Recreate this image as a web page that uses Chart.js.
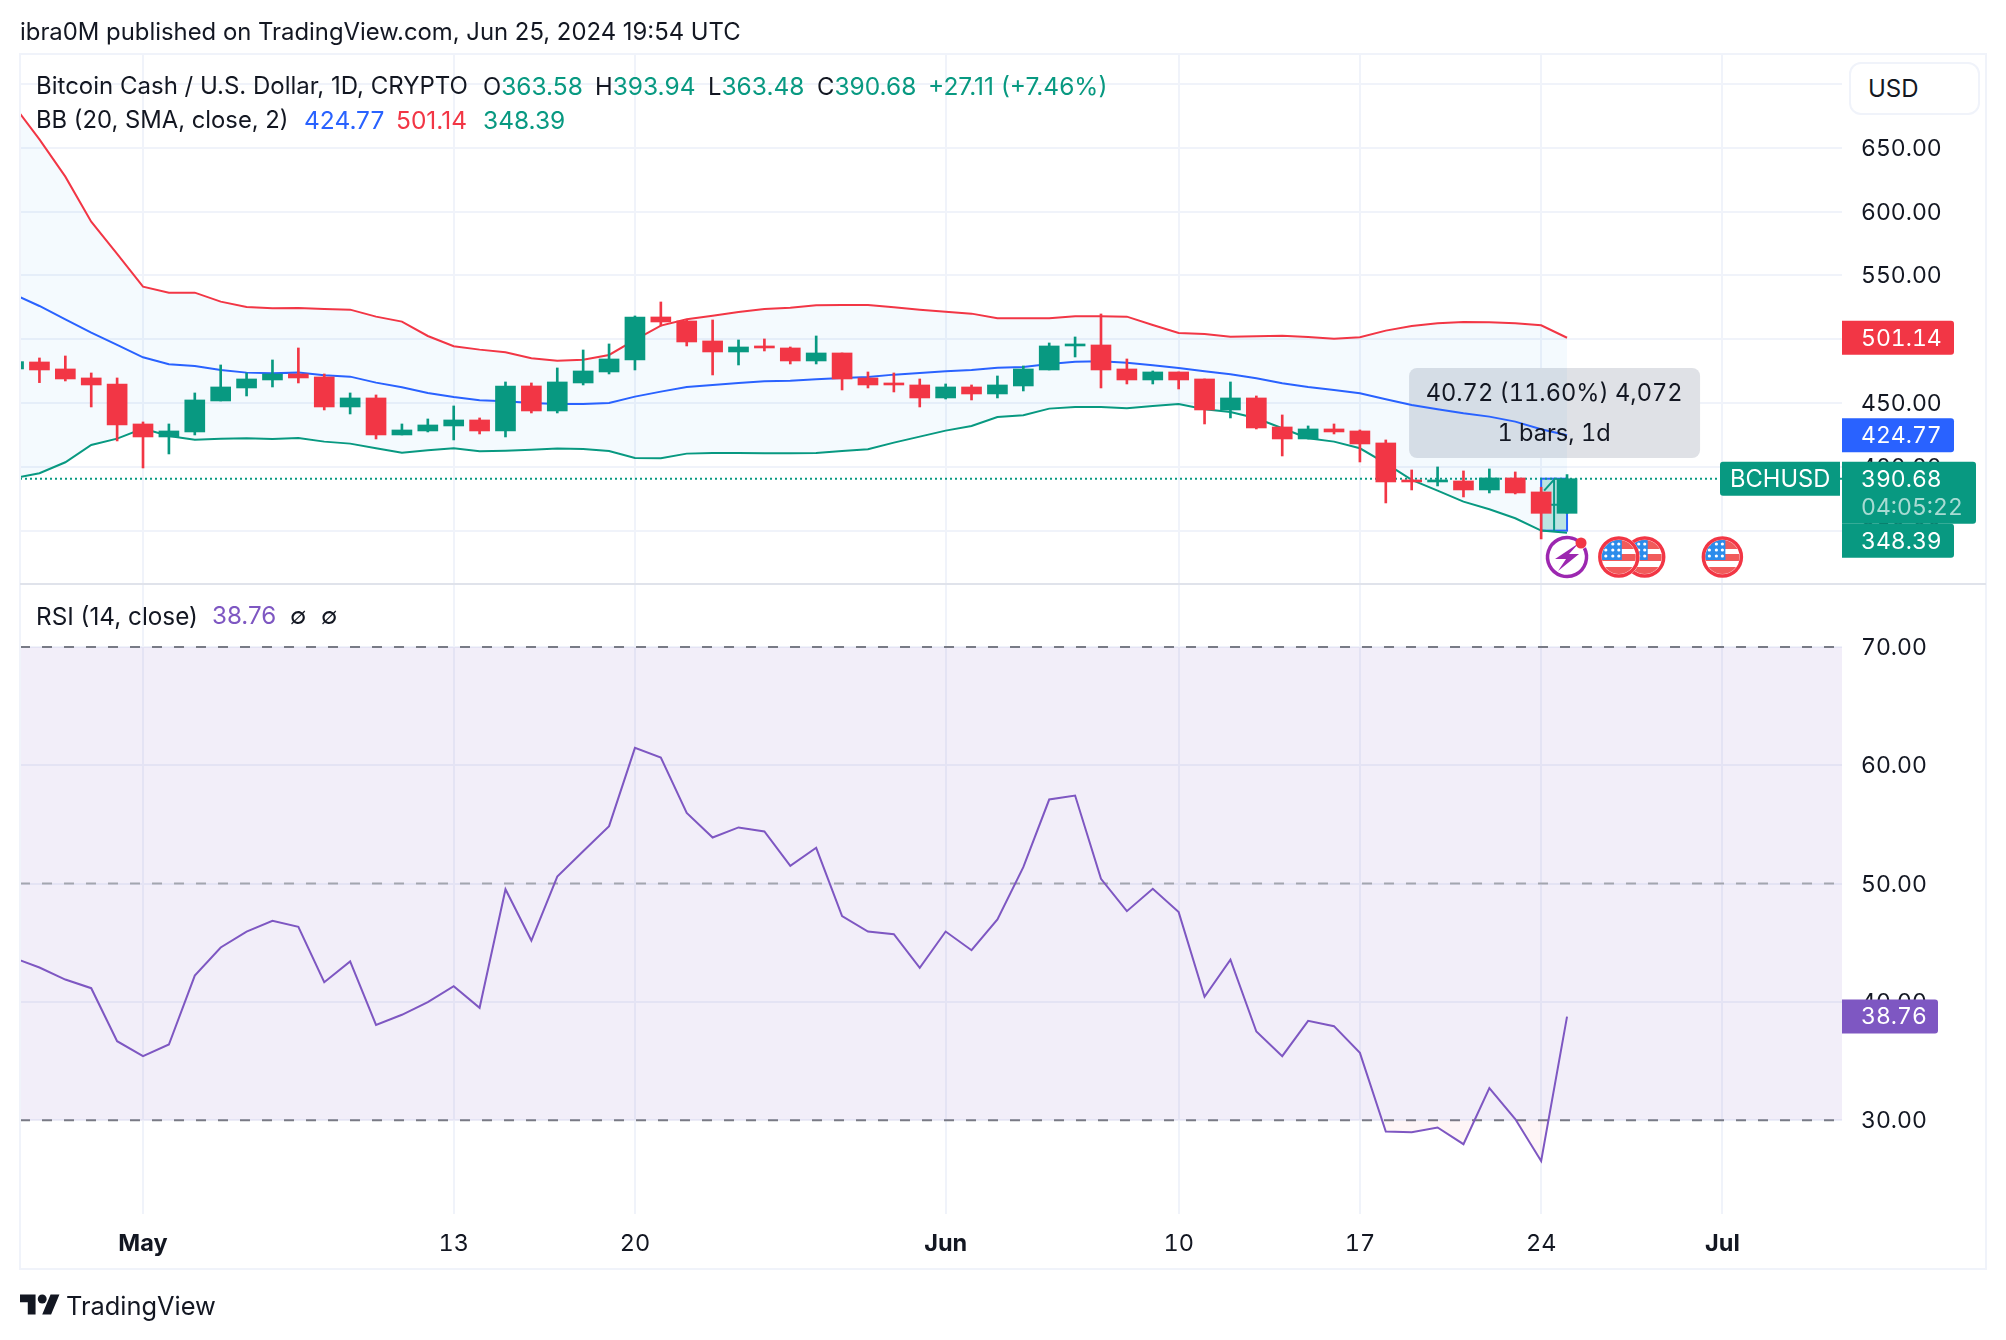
<!DOCTYPE html>
<html>
<head>
<meta charset="utf-8">
<title>BCHUSD</title>
<script src="https://cdn.jsdelivr.net/npm/chart.js@4"></script>
<style>
    html, body { margin: 0; padding: 0; background: #fff; }
    body { width: 2006px; height: 1340px; position: relative; overflow: hidden; font-family: Inter, "Noto Sans", sans-serif; color: #131722; }
    canvas { position: absolute; left: 0; top: 0; font-variant-numeric: tabular-nums; }
    .t { position: absolute; white-space: pre; font-size: 23.8px; line-height: 30px; margin-top: -15px; }
    .n { font-size: 24.5px; }
    .up { color: #089981; }
    .down { color: #f23645; }
    .blue { color: #2962ff; }
    .purple { color: #7e57c2; }
    #usd { position: absolute; left: 1849px; top: 62px; width: 127px; height: 49px; border: 2px solid #f0f3fa; border-radius: 12px; background: #fff; line-height: 49px; font-size: 24px; text-indent: 17px; }
    #logo { position: absolute; left: 20px; top: 1290px; }
</style>
</head>
<body>
<canvas id="myChart" width="2006" height="1340"></canvas>

<div class="t" style="left:20px;top:32px;font-size:23.87px">ibra0M published on TradingView.com, Jun 25, 2024 19:54 UTC</div>

<div class="t" style="left:36px;top:86px;font-size:24px">Bitcoin Cash / U.S. Dollar, 1D, CRYPTO</div>
<div class="t" style="left:483px;top:86px">O<span class="up n">363.58</span></div>
<div class="t" style="left:595px;top:86px">H<span class="up n">393.94</span></div>
<div class="t" style="left:708px;top:86px">L<span class="up n">363.48</span></div>
<div class="t" style="left:817px;top:86px">C<span class="up n">390.68</span></div>
<div class="t up n" style="left:928px;top:86px">+27.11 (+7.46%)</div>

<div class="t" style="left:36px;top:120px">BB (20, SMA, close, 2)</div>
<div class="t blue n" style="left:304px;top:120px">424.77</div>
<div class="t down n" style="left:396px;top:120px">501.14</div>
<div class="t up n" style="left:483px;top:120px">348.39</div>

<div class="t" style="left:36px;top:616px;font-size:24.3px">RSI (14, close)</div>
<div class="t purple" style="left:212px;top:616px;font-size:24.2px">38.76</div>
<div class="t" style="left:290px;top:616px">∅</div>
<div class="t" style="left:321px;top:616px">∅</div>

<div id="usd">USD</div>

<svg id="logo" width="40" height="28" viewBox="0 0 36 25" fill="#131722"><path d="M14 22H7V11H0V4h14v18zM28 22h-8l7.5-18h8L28 22z"/><circle cx="20" cy="8" r="4"/></svg>
<div class="t" style="left:66px;top:1306px;font-size:25.4px">TradingView</div>

<script>
// one entry per day, first one is Apr 26 2024, last one Jun 25 2024
const opens = [476.7,482.18,476.7,469.65,464.94,433.6,423.42,427.34,451.63,461.81,468.08,472.78,470.43,446.92,453.98,424.99,428.12,432.04,436.74,428.12,463.38,443.79,465.73,474.35,483.75,517.44,514.31,498.64,490.02,494.72,493.15,482.97,489.23,469.65,465.73,464.16,453.98,462.59,457.11,463.38,475.91,494.72,495.5,476.7,468.08,474.35,468.86,444.57,453.98,431.25,421.85,429.69,428.12,418.72,389.73,388.16,388.94,381.89,391.3,380.33,363.58];
const highs = [483,485.32,486.88,473.56,469.65,435.17,433.6,457.89,479.83,473.56,483.75,493.15,472.78,457.89,456.33,433.6,437.52,447.71,438.31,466.51,465.73,477.48,491.58,496.29,518.22,529.19,515.09,515.09,499.42,500.2,493.93,502.55,489.23,474.35,473.56,468.86,464.94,464.16,471.21,479.05,497.07,501.77,519.79,484.53,475.13,474.35,468.86,466.51,455.54,440.66,432.04,433.6,428.9,421.07,397.56,399.91,396.78,398.35,396,384,393.94];
const lows = [476,465.99,467.3,446.92,420.29,399.13,410.1,424.99,451.63,455.54,462.59,465.73,444.57,441.44,421.85,424.99,427.34,421.07,425.77,423.42,442.22,442.22,464.16,472.78,475.91,510.39,494.72,472,479.83,490.8,480.62,480.62,460.24,461.81,458.68,446.92,453.19,452.41,453.98,459.46,475.91,486.1,461.81,464.94,464.94,461.03,433.6,438.31,429.69,408.53,421.85,425.77,403.83,371.71,381.89,385.03,376.41,379.54,378.76,343.5,363.48];
const closes = [482.44,475.91,468.86,464.16,432.82,423.42,428.12,452.41,462.59,468.86,472.78,469.65,446.92,453.98,424.99,428.9,432.82,436.74,428.12,463.38,443.79,466.51,475.13,484.53,517.44,513.52,497.85,490.02,493.93,493.15,482.97,489.23,468.86,464.16,464.16,453.98,462.59,457.11,464.16,476.7,494.72,496.29,475.91,468.08,474.35,468.08,444.57,453.98,430.47,421.85,429.69,427.34,417.93,388.16,388.16,389.73,381.89,391.3,379.54,363.58,390.68];

const bbUpper = [683.5,656.64,627.39,592.13,566.8,541.2,536.5,536.5,529.45,525.28,524.23,524.49,523.71,523.19,517.7,513.78,502.55,494.46,491.85,489.76,485.06,483.23,484.01,487.67,499.42,510.65,515.61,518.48,521.36,523.71,524.75,526.58,526.84,526.84,525.01,523.19,521.62,520.05,516.4,516.4,516.4,517.96,517.96,517.7,511.17,504.9,504.12,502.03,502.29,502.81,501.77,500.46,501.51,506.73,510.39,512.48,513.52,513.26,512.48,510.91,501.14];
const bbBasis = [535.2,526.06,515.61,505.17,495.5,485.84,480.35,479.05,475.91,473.83,473.3,473.83,471.74,470.69,465.99,462.33,457.89,454.76,452.15,451.36,450.06,449.27,449.27,450.06,455.02,458.94,462.59,464.16,465.73,467.03,467.56,468.6,469.65,470.43,472.26,473.56,474.87,475.91,477.74,478.26,480.62,482.44,482.7,481.66,479.57,477.48,474.87,472.52,469.38,465.47,462.59,460.24,457.63,452.93,448.49,445.1,441.96,439.35,435.43,429.43,424.77];
const bbLower = [391.03,394.95,403.57,417.15,422.11,429.95,424.2,421.33,422.11,422.37,421.85,422.64,419.76,418.2,414.54,411.14,412.97,414.54,412.19,412.71,413.49,414.28,414.02,412.45,406.97,406.7,410.36,410.88,410.88,410.62,410.62,410.88,412.45,413.76,418.98,423.68,428.38,432.04,439.09,440.39,445.62,446.92,446.92,445.88,447.71,449.27,445.1,443.01,438.04,430.21,422.37,419.76,414.54,402.79,389.73,381.37,372.75,366.75,359.69,350.03,348.39];

const rsiValues = [43.73,42.91,41.89,41.16,36.68,35.41,36.4,42.23,44.6,45.95,46.85,46.35,41.67,43.42,38.06,38.91,39.98,41.33,39.5,49.53,45.19,50.6,52.74,54.86,61.48,60.66,55.98,53.9,54.75,54.41,51.5,53.03,47.25,45.95,45.73,42.88,45.95,44.37,46.97,51.39,57.11,57.45,50.4,47.67,49.56,47.59,40.43,43.58,37.5,35.41,38.4,37.95,35.69,29.04,28.99,29.38,27.97,32.71,30.1,26.55,38.76];

const xTickDays = [5,17,24,36,45,52,59,66];
const xTickLabels = ['May','13','20','Jun','10','17','24','Jul'];
const xTickBold = ['May','Jun','Jul'];
const priceTicks = [350,400,450,500,550,600,650,700];
const rsiTicks = [30,40,50,60,70];

const rsiUpperBand = 70;
const rsiMiddleBand = 50;
const rsiLowerBand = 30;

const lastPrice = 390.68;
const measureDays = [59,60];
const measurePrices = [350,390.72];
const eventDays = [60,62,63,66];

const xMin = 0.249, xMax = 70.62;

const GREEN = '#089981', RED = '#f23645', BLUE = '#2962ff', PURPLE = '#7e57c2';
const GRID = '#f0f3fa';
const FONT = 'Inter, "Noto Sans", sans-serif';
const AXIS_SIZE = 23;

const days = closes.map((c, i) => i);

function toPoints(values){
    return values.map((v, i) => ({x: days[i], y: v}));
}

function flatLine(value){
    return [{x: xMin, y: value}, {x: xMax, y: value}];
}

function drawTag(ctx, left, right, cy, h, color, radii, text){
    ctx.fillStyle = color;
    ctx.beginPath();
    ctx.roundRect(left, cy - h / 2, right - left, h, radii);
    ctx.fill();
    ctx.fillStyle = '#fff';
    ctx.fillText(text, left + 19, cy + 1);
}

function drawFlag(ctx, x, y){
    const r = 21;
    ctx.save();
    ctx.beginPath();
    ctx.arc(x, y, r, 0, Math.PI * 2);
    ctx.fillStyle = '#fff';
    ctx.fill();
    ctx.beginPath();
    ctx.arc(x, y, r - 4, 0, Math.PI * 2);
    ctx.clip();
    ctx.fillStyle = '#f15b5b';
    ctx.fillRect(x - r, y - 17, 2 * r, 9);
    ctx.fillRect(x - r, y - 3, 2 * r, 7);
    ctx.fillRect(x - r, y + 10, 2 * r, 9);
    ctx.fillStyle = '#2b8ceb';
    ctx.fillRect(x - r, y - r, r + 3, r + 3);
    ctx.fillStyle = '#fff';
    [-13, -6, 0].forEach(dx => {
        [-13, -7, -1].forEach(dy => {
            ctx.beginPath();
            ctx.arc(x + dx, y + dy, 1.6, 0, Math.PI * 2);
            ctx.fill();
        });
    });
    ctx.restore();
    ctx.beginPath();
    ctx.arc(x, y, r - 2, 0, Math.PI * 2);
    ctx.strokeStyle = RED;
    ctx.lineWidth = 3.5;
    ctx.stroke();
}

function drawBolt(ctx, x, y){
    ctx.strokeStyle = '#9c27b0';
    ctx.lineWidth = 3.5;
    ctx.beginPath();
    ctx.arc(x, y, 19.5, -0.15 * Math.PI, 1.72 * Math.PI);
    ctx.stroke();
    ctx.fillStyle = '#9c27b0';
    ctx.beginPath();
    ctx.moveTo(x + 12, y - 14);
    ctx.lineTo(x - 12, y + 2);
    ctx.lineTo(x - 1, y + 2);
    ctx.lineTo(x - 9, y + 14);
    ctx.lineTo(x + 12, y - 3);
    ctx.lineTo(x + 2, y - 3);
    ctx.closePath();
    ctx.fill();
    ctx.fillStyle = RED;
    ctx.beginPath();
    ctx.arc(x + 14, y - 14, 5.5, 0, Math.PI * 2);
    ctx.fill();
}

const paneExtras = {
    id: 'paneExtras',
    beforeDatasetsDraw(chart){
        const ctx = chart.ctx, x = chart.scales.x, y = chart.scales.yPrice;
        // measure label box, the bands pass over it
        const centerX = x.getPixelForValue(measureDays[0] + 0.5);
        ctx.fillStyle = '#dfe1e6';
        ctx.beginPath();
        ctx.roundRect(centerX - 145, 368, 291, 90, 8);
        ctx.fill();
        // measure rectangle
        const left = x.getPixelForValue(measureDays[0]);
        const right = x.getPixelForValue(measureDays[1]);
        const top = y.getPixelForValue(measurePrices[1]);
        const bottom = y.getPixelForValue(measurePrices[0]);
        ctx.fillStyle = 'rgba(8,153,129,0.24)';
        ctx.fillRect(left, top, right - left, bottom - top);
        ctx.strokeStyle = BLUE;
        ctx.lineWidth = 2;
        ctx.strokeRect(left, top, right - left, bottom - top);
        ctx.strokeStyle = GREEN;
        ctx.beginPath();
        ctx.moveTo((left + right) / 2, bottom);
        ctx.lineTo((left + right) / 2, top + 1);
        ctx.lineTo(left + 3, top + 12);
        ctx.moveTo(left, (top + bottom) / 2);
        ctx.lineTo(right, (top + bottom) / 2);
        ctx.stroke();
    },
    afterDraw(chart){
        const ctx = chart.ctx, x = chart.scales.x, y = chart.scales.yPrice, r = chart.scales.yRsi;
        const area = chart.chartArea;
        ctx.save();

        // frame and pane divider
        ctx.strokeStyle = GRID;
        ctx.lineWidth = 2;
        ctx.strokeRect(20, 54, 1966, 1215);
        ctx.strokeStyle = '#e0e3eb';
        ctx.beginPath();
        ctx.moveTo(20, y.bottom);
        ctx.lineTo(1986, y.bottom);
        ctx.stroke();

        // measure label text
        ctx.fillStyle = '#131722';
        ctx.font = '23.6px ' + FONT;
        ctx.textAlign = 'center';
        ctx.textBaseline = 'middle';
        const centerX = x.getPixelForValue(measureDays[0] + 0.5);
        ctx.fillText('40.72 (11.60%) 4,072', centerX, 394);
        ctx.fillText('1 bars, 1d', centerX, 434);

        // axis tags, the lower band tag gets pushed under the last price tag
        ctx.font = AXIS_SIZE + 'px ' + FONT;
        ctx.textAlign = 'left';
        const tagH = 34, axisLeft = area.right;
        const upperY = y.getPixelForValue(bbUpper[60]);
        drawTag(ctx, axisLeft, 1954, upperY, tagH, RED, [0, 3, 3, 0], bbUpper[60].toFixed(2));
        const basisY = y.getPixelForValue(bbBasis[60]);
        drawTag(ctx, axisLeft, 1954, basisY, tagH, BLUE, [0, 3, 3, 0], bbBasis[60].toFixed(2));

        const closeY = y.getPixelForValue(lastPrice);
        ctx.fillStyle = GREEN;
        ctx.beginPath();
        ctx.roundRect(1720, closeY - tagH / 2, 120, tagH, [3, 0, 0, 3]);
        ctx.fill();
        ctx.fillStyle = '#fff';
        ctx.font = '23.7px ' + FONT;
        ctx.fillText('BCHUSD', 1730, closeY + 1);
        ctx.font = AXIS_SIZE + 'px ' + FONT;
        ctx.fillStyle = GREEN;
        ctx.beginPath();
        ctx.roundRect(axisLeft, closeY - tagH / 2, 134, 62, [0, 3, 3, 0]);
        ctx.fill();
        ctx.fillStyle = '#fff';
        ctx.fillText(lastPrice.toFixed(2), axisLeft + 19, closeY + 1);
        ctx.fillStyle = 'rgba(255,255,255,0.65)';
        ctx.fillText('04:05:22', axisLeft + 19, closeY + 29);

        const lowerY = Math.max(y.getPixelForValue(bbLower[60]), closeY + 62);
        drawTag(ctx, axisLeft, 1954, lowerY, tagH, GREEN, [0, 3, 3, 0], bbLower[60].toFixed(2));

        const rsiY = r.getPixelForValue(rsiValues[60]);
        drawTag(ctx, axisLeft, 1938, rsiY, tagH, PURPLE, [0, 3, 3, 0], rsiValues[60].toFixed(2));

        // events row
        const eventY = 557;
        drawBolt(ctx, x.getPixelForValue(eventDays[0]), eventY);
        drawFlag(ctx, x.getPixelForValue(eventDays[2]), eventY);
        drawFlag(ctx, x.getPixelForValue(eventDays[1]), eventY);
        drawFlag(ctx, x.getPixelForValue(eventDays[3]), eventY);

        ctx.restore();
    }
};

const canvas = document.getElementById('myChart');
const myChart = new Chart(canvas, {
    type: 'bar',
    data: {
        datasets: [
            // candles
            {
                yAxisID: 'yPrice',
                data: days.map(i => ({x: i, y: [opens[i], closes[i]]})),
                backgroundColor: days.map(i => closes[i] >= opens[i] ? GREEN : RED),
                barThickness: 20,
                minBarLength: 2,
                borderWidth: 0,
                grouped: false,
                order: 1
            },
            {
                yAxisID: 'yPrice',
                data: days.map(i => ({x: i, y: [lows[i], highs[i]]})),
                backgroundColor: days.map(i => closes[i] >= opens[i] ? GREEN : RED),
                barThickness: 2,
                borderWidth: 0,
                grouped: false,
                order: 2
            },
            // bollinger bands
            {
                type: 'line',
                yAxisID: 'yPrice',
                data: toPoints(bbUpper),
                borderColor: RED,
                borderWidth: 2,
                pointRadius: 0,
                tension: 0,
                fill: '+1',
                backgroundColor: 'rgba(33,150,243,0.05)',
                order: 5
            },
            {
                type: 'line',
                yAxisID: 'yPrice',
                data: toPoints(bbLower),
                borderColor: GREEN,
                borderWidth: 2,
                pointRadius: 0,
                tension: 0,
                fill: false,
                order: 4
            },
            {
                type: 'line',
                yAxisID: 'yPrice',
                data: toPoints(bbBasis),
                borderColor: BLUE,
                borderWidth: 2,
                pointRadius: 0,
                tension: 0,
                fill: false,
                order: 3
            },
            // last price
            {
                type: 'line',
                yAxisID: 'yPrice',
                data: flatLine(lastPrice),
                borderColor: GREEN,
                borderWidth: 2,
                borderDash: [2, 3],
                pointRadius: 0,
                fill: false,
                order: 6
            },
            // rsi
            {
                type: 'line',
                yAxisID: 'yRsi',
                data: toPoints(rsiValues),
                borderColor: PURPLE,
                borderWidth: 2,
                pointRadius: 0,
                tension: 0,
                fill: {target: {value: rsiLowerBand}, above: 'rgba(0,0,0,0)', below: 'rgba(242,54,69,0.05)'},
                order: 7
            },
            {
                type: 'line',
                yAxisID: 'yRsi',
                data: flatLine(rsiMiddleBand),
                borderColor: '#a3a6af',
                borderWidth: 2,
                borderDash: [10, 12],
                pointRadius: 0,
                fill: false,
                order: 8
            },
            {
                type: 'line',
                yAxisID: 'yRsi',
                data: flatLine(rsiUpperBand),
                borderColor: '#787b86',
                borderWidth: 2,
                borderDash: [10, 12],
                pointRadius: 0,
                fill: '+1',
                backgroundColor: 'rgba(126,87,194,0.1)',
                order: 10
            },
            {
                type: 'line',
                yAxisID: 'yRsi',
                data: flatLine(rsiLowerBand),
                borderColor: '#787b86',
                borderWidth: 2,
                borderDash: [10, 12],
                pointRadius: 0,
                fill: false,
                order: 9
            }
        ]
    },
    options: {
        responsive: false,
        animation: false,
        layout: {padding: {left: 20, top: 54, right: 20, bottom: 71}},
        plugins: {legend: {display: false}, tooltip: {enabled: false}},
        scales: {
            x: {
                type: 'linear',
                min: xMin,
                max: xMax,
                offset: false,
                grid: {color: GRID, lineWidth: 2, offset: false, drawTicks: false},
                border: {display: false},
                afterBuildTicks: function(axis){
                    axis.ticks = xTickDays.map(d => ({value: d}));
                },
                afterFit: function(axis){
                    axis.height = 55;
                },
                ticks: {
                    autoSkip: false,
                    maxRotation: 0,
                    padding: 16,
                    color: '#131722',
                    font: function(c){
                        const label = c.tick ? xTickLabels[xTickDays.indexOf(c.tick.value)] : '';
                        return {family: FONT, size: 23.5, weight: xTickBold.includes(label) ? 'bold' : 'normal'};
                    },
                    callback: function(value){
                        return xTickLabels[xTickDays.indexOf(value)];
                    }
                }
            },
            yPrice: {
                type: 'linear',
                position: 'right',
                stack: 'panes',
                stackWeight: 530,
                min: 308.2,
                max: 723.5,
                grid: {color: GRID, lineWidth: 2, drawTicks: false},
                border: {display: false},
                afterBuildTicks: function(axis){
                    axis.ticks = priceTicks.map(v => ({value: v}));
                },
                afterFit: function(axis){
                    axis.width = 144;
                },
                ticks: {
                    padding: 19,
                    labelOffset: 1,
                    color: '#131722',
                    font: {family: FONT, size: AXIS_SIZE},
                    callback: function(value){
                        return value.toFixed(2);
                    }
                }
            },
            yRsi: {
                type: 'linear',
                position: 'right',
                stack: 'panes',
                stackWeight: 630,
                min: 22.07,
                max: 75.33,
                grid: {color: GRID, lineWidth: 2, drawTicks: false},
                border: {display: false},
                afterBuildTicks: function(axis){
                    axis.ticks = rsiTicks.map(v => ({value: v}));
                },
                afterFit: function(axis){
                    axis.width = 144;
                },
                ticks: {
                    padding: 19,
                    labelOffset: 1,
                    color: '#131722',
                    font: {family: FONT, size: AXIS_SIZE},
                    callback: function(value){
                        return value.toFixed(2);
                    }
                }
            }
        }
    },
    plugins: [paneExtras]
});
</script>
</body>
</html>
